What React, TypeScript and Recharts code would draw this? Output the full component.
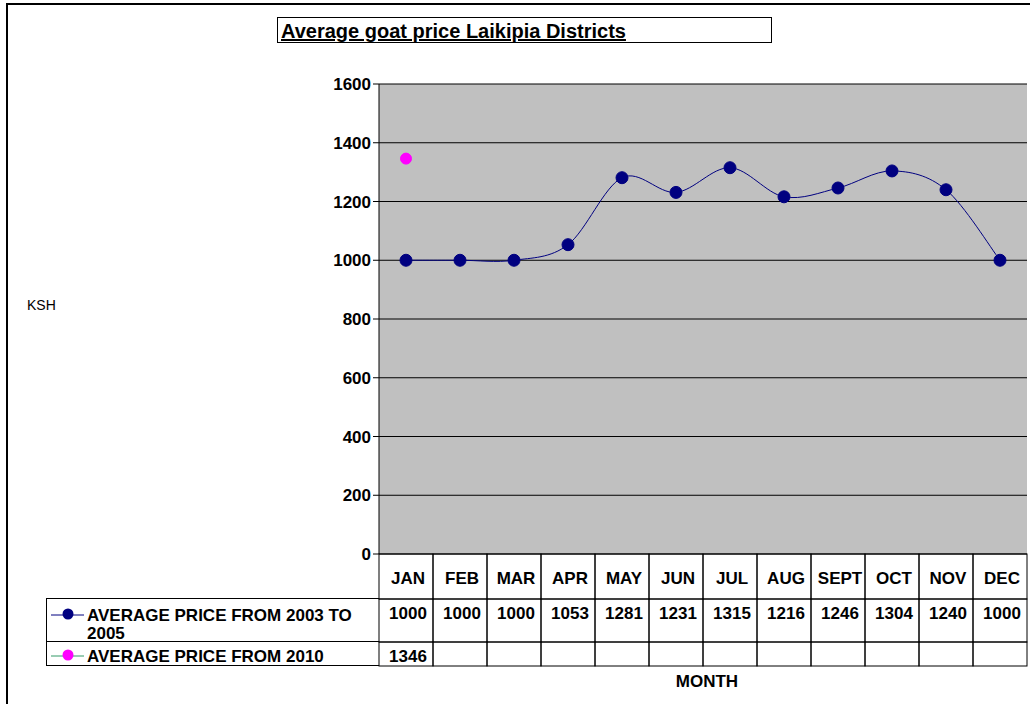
import { LineChart, Line, XAxis, YAxis, CartesianGrid, Legend } from "recharts";

const months = ["JAN", "FEB", "MAR", "APR", "MAY", "JUN", "JUL", "AUG", "SEPT", "OCT", "NOV", "DEC"];
const avg2003to2005 = [1000, 1000, 1000, 1053, 1281, 1231, 1315, 1216, 1246, 1304, 1240, 1000];
const avg2010: (number | null)[] = [1346, null, null, null, null, null, null, null, null, null, null, null];
const yTicks = [0, 200, 400, 600, 800, 1000, 1200, 1400, 1600];
const seriesNames = ["AVERAGE PRICE FROM 2003 TO 2005", "AVERAGE PRICE FROM 2010"];

const data = months.map((m, i) => ({ month: m, a: avg2003to2005[i], b: avg2010[i] }));

const FONT = "Arial, 'Liberation Sans', sans-serif";
const NAVY = "#000080";
const MAGENTA = "#FF00FF";
const GREEN = "#339966";
const CELL_W = 54;

// Excel-like smoothed line (Catmull-Rom as cubic bezier)
function excelSmooth(context: any) {
  let pts: number[][] = [];
  return {
    areaStart() {},
    areaEnd() {},
    lineStart() {
      pts = [];
    },
    point(x: number, y: number) {
      pts.push([+x, +y]);
    },
    lineEnd() {
      if (!pts.length) return;
      context.moveTo(pts[0][0], pts[0][1]);
      for (let i = 0; i < pts.length - 1; i++) {
        const p0 = pts[i - 1] || pts[i];
        const p1 = pts[i];
        const p2 = pts[i + 1];
        const p3 = pts[i + 2] || p2;
        context.bezierCurveTo(
          p1[0] + (p2[0] - p0[0]) / 6,
          p1[1] + (p2[1] - p0[1]) / 6,
          p2[0] - (p3[0] - p1[0]) / 6,
          p2[1] - (p3[1] - p1[1]) / 6,
          p2[0],
          p2[1]
        );
      }
    },
  };
}

function CellTick(props: any) {
  const { x, y, payload, index, h, values, textDy } = props;
  const i = typeof index === "number" ? index : months.indexOf(payload.value);
  const label = values ? values[i] : payload.value;
  return (
    <g>
      <rect x={x - CELL_W / 2} y={y} width={CELL_W} height={h} fill="none" stroke="#000" strokeWidth={1} />
      {label != null && (
        <text
          x={x + 2}
          y={y + textDy}
          textAnchor="middle"
          dominantBaseline="central"
          fontFamily={FONT}
          fontSize={17}
          fontWeight="bold"
          fill="#000"
        >
          {label}
        </text>
      )}
    </g>
  );
}

function LegendTable() {
  const rows = [
    { name: seriesNames[0], line: NAVY, dot: NAVY, h: 43, pad: 8 },
    { name: seriesNames[1], line: GREEN, dot: MAGENTA, h: 24, pad: 6 },
  ];
  return (
    <div style={{ width: 333, borderLeft: "1px solid #000", borderTop: "1px solid #000", boxSizing: "border-box" }}>
      {rows.map((r) => (
        <div
          key={r.name}
          style={{
            height: r.h,
            borderBottom: "1px solid #000",
            boxSizing: "border-box",
            display: "flex",
            alignItems: "flex-start",
            paddingTop: r.pad,
            overflow: "visible",
          }}
        >
          <svg width={40} height={18} style={{ flex: "none" }}>
            <line x1={4} x2={37} y1={8} y2={8} stroke={r.line} strokeWidth={1} />
            <circle cx={21} cy={7} r={5.5} fill={r.dot} />
          </svg>
          <div
            style={{
              width: 290,
              fontFamily: FONT,
              fontSize: 17,
              fontWeight: "bold",
              lineHeight: "18px",
              color: "#000",
            }}
          >
            {r.name}
          </div>
        </div>
      ))}
    </div>
  );
}

export default function App() {
  return (
    <div
      style={{
        position: "fixed",
        left: 0,
        top: 0,
        width: 1030,
        height: 704,
        overflow: "hidden",
        background: "#fff",
        fontFamily: FONT,
      }}
    >
      <div
        style={{
          position: "absolute",
          left: 6,
          top: 3,
          width: 1100,
          height: 800,
          border: "2px solid #000",
        }}
      />
      <div style={{ position: "absolute", left: 0, top: 0 }}>
        <LineChart width={1030} height={704} data={data} margin={{ top: 84, right: 3, left: 0, bottom: 38 }}>
          <CartesianGrid vertical={false} stroke="#000" fill="#C0C0C0" strokeWidth={1} />
          <XAxis
            dataKey="month"
            height={45}
            interval={0}
            padding={{ left: 27, right: 27 }}
            axisLine={false}
            tickLine={false}
            tickSize={0}
            tickMargin={0}
            tick={<CellTick h={45} textDy={24} />}
          />
          <XAxis
            xAxisId="r1"
            dataKey="month"
            height={43}
            interval={0}
            padding={{ left: 27, right: 27 }}
            axisLine={false}
            tickLine={false}
            tickSize={0}
            tickMargin={0}
            tick={<CellTick h={43} textDy={14} values={avg2003to2005} />}
          />
          <XAxis
            xAxisId="r2"
            dataKey="month"
            height={24}
            interval={0}
            padding={{ left: 27, right: 27 }}
            axisLine={false}
            tickLine={false}
            tickSize={0}
            tickMargin={0}
            tick={<CellTick h={24} textDy={14} values={avg2010} />}
            label={{
              content: (p: any) => {
                const vb = p.viewBox || {};
                return (
                  <text
                    x={vb.x + vb.width / 2 + 4}
                    y={vb.y + vb.height + 15}
                    textAnchor="middle"
                    dominantBaseline="central"
                    fontFamily={FONT}
                    fontSize={17}
                    fontWeight="bold"
                    fill="#000"
                  >
                    MONTH
                  </text>
                );
              },
            }}
          />
          <YAxis
            width={379}
            domain={[0, 1600]}
            ticks={yTicks}
            interval={0}
            axisLine={{ stroke: "#000" }}
            tickLine={{ stroke: "#000" }}
            tick={{ fontFamily: FONT, fontSize: 17, fontWeight: "bold", fill: "#000" }}
            label={{
              content: (p: any) => {
                const vb = p.viewBox || {};
                return (
                  <text
                    x={vb.x + 27}
                    y={vb.y + vb.height / 2 - 14}
                    dominantBaseline="central"
                    fontFamily={FONT}
                    fontSize={14}
                    fill="#000"
                  >
                    KSH
                  </text>
                );
              },
            }}
          />
          <Legend
            layout="horizontal"
            verticalAlign="middle"
            align="center"
            content={<LegendTable />}
            wrapperStyle={{ left: 46, top: 598, width: 333 }}
          />
          <Line
            type={excelSmooth as any}
            dataKey="a"
            name={seriesNames[0]}
            stroke={NAVY}
            strokeWidth={1}
            dot={{ r: 6, fill: NAVY, stroke: NAVY, strokeWidth: 1 }}
            activeDot={false}
            isAnimationActive={false}
          />
          <Line
            type="linear"
            dataKey="b"
            name={seriesNames[1]}
            stroke={GREEN}
            strokeWidth={1}
            dot={{ r: 5.5, fill: MAGENTA, stroke: MAGENTA, strokeWidth: 1 }}
            activeDot={false}
            isAnimationActive={false}
          />
        </LineChart>
      </div>
      <div
        style={{
          position: "absolute",
          left: 277,
          top: 17,
          width: 495,
          height: 26,
          border: "1px solid #000",
          boxSizing: "border-box",
          paddingLeft: 3,
          paddingTop: 1,
          fontSize: 20,
          fontWeight: "bold",
          lineHeight: "25px",
          textDecoration: "underline",
          whiteSpace: "nowrap",
          color: "#000",
        }}
      >
        Average goat price Laikipia Districts
      </div>
    </div>
  );
}
